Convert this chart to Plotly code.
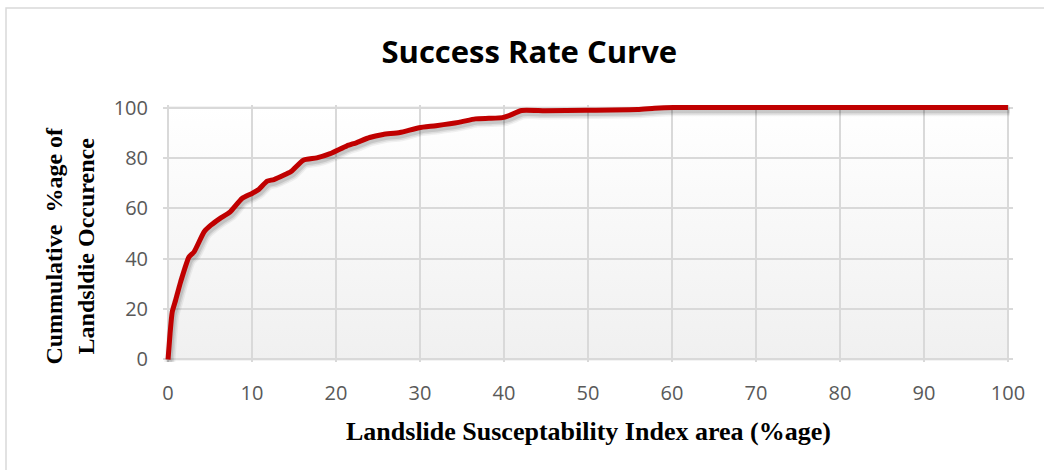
import base64
import plotly.graph_objects as go

# Success rate curve: cumulative landslide occurrence vs. susceptability index area
area_pct = [0, 0.24, 0.5, 0.9, 1.5, 2.5, 3.1, 4.3, 5.1, 6.2, 7.4, 8.8, 10.0, 10.8,
            11.8, 12.6, 14.0, 14.7, 16.1, 17.7, 19.3, 21.3, 22.4, 24.0, 25.6, 27.6,
            29.9, 31.9, 34.6, 36.6, 38.2, 39.8, 40.6, 42.1, 44.9, 49.8, 55.9, 57.9,
            60.2, 100]
occurrence_pct = [0, 10.3, 18.9, 23.5, 30.8, 40.7, 42.7, 50.7, 53.3, 56.0, 58.6, 63.9,
                  65.9, 67.5, 70.8, 71.4, 73.5, 74.7, 79.1, 80.0, 81.7, 84.8, 86.0,
                  88.1, 89.3, 90.1, 92.0, 92.8, 94.1, 95.5, 95.7, 96.0, 96.8, 98.8,
                  98.7, 98.9, 99.2, 99.7, 100, 100]
tick_vals = [0, 10, 20, 30, 40, 50, 60, 70, 80, 90, 100]
y_tick_vals = [0, 20, 40, 60, 80, 100]

TITLE = "Success Rate Curve"
X_TITLE = "Landslide Susceptability Index area (%age)"
Y_TITLE = "Cummulative\u00a0 %age of<br>Landsldie Occurence"

X_RANGE = [-0.6, 100.6]
Y_RANGE = [-1, 101]
# shadow axes: same data drawn a couple of pixels right and down
SHADOW_X = [X_RANGE[0] - 0.2, X_RANGE[1] - 0.2]
SHADOW_Y = [Y_RANGE[0] + 1.3, Y_RANGE[1] + 1.3]

tick_font = dict(family="Open Sans, sans-serif", size=20, color="#595959")
serif = "Liberation Serif, Times New Roman, serif"

# vertical white-to-grey gradient for the plot area
grad_svg = (
    '<svg xmlns="http://www.w3.org/2000/svg" width="10" height="100" '
    'preserveAspectRatio="none">'
    '<defs><linearGradient id="g" x1="0" y1="0" x2="0" y2="1">'
    '<stop offset="0" stop-color="#ffffff"/>'
    '<stop offset="1" stop-color="#f0f0f0"/>'
    '</linearGradient></defs>'
    '<rect width="10" height="100" fill="url(#g)"/></svg>'
)
grad_uri = "data:image/svg+xml;base64," + base64.b64encode(grad_svg.encode()).decode()

fig = go.Figure()

# soft drop shadow under the curve
for width, alpha in [(11, 0.05), (8, 0.08), (5, 0.10)]:
    fig.add_trace(go.Scatter(
        x=area_pct, y=occurrence_pct, mode="lines", xaxis="x2", yaxis="y2",
        line=dict(color=f"rgba(0,0,0,{alpha})", width=width, shape="spline",
                  smoothing=0.5),
        hoverinfo="skip", showlegend=False,
    ))

# the curve itself, on an overlay that sits above the shadow
fig.add_trace(go.Scatter(
    x=area_pct, y=occurrence_pct, mode="lines", xaxis="x3", yaxis="y3",
    line=dict(color="#C00000", width=5, shape="spline", smoothing=0.5),
    showlegend=False,
))

fig.update_layout(
    width=1044, height=470,
    margin=dict(l=163, r=31, t=105, b=108),
    paper_bgcolor="#ffffff",
    plot_bgcolor="rgba(0,0,0,0)",
    title=dict(text=TITLE, xref="container", yref="container", x=0.507, y=0.889,
               xanchor="center", yanchor="middle",
               font=dict(family="Open Sans, sans-serif", size=31, color="#000000",
                         weight="bold")),
    xaxis=dict(range=X_RANGE, tickvals=tick_vals, showgrid=True, gridcolor="#d9d9d9",
               gridwidth=1.5, zeroline=False, showline=False, ticks="",
               tickfont=tick_font, ticklabelstandoff=17, fixedrange=True),
    yaxis=dict(range=Y_RANGE, tickvals=y_tick_vals, showgrid=True, gridcolor="#d9d9d9",
               gridwidth=1.5, zeroline=False, showline=False, ticks="",
               tickfont=tick_font, ticklabelstandoff=14, fixedrange=True),
    xaxis2=dict(range=SHADOW_X, overlaying="x", visible=False, fixedrange=True),
    yaxis2=dict(range=SHADOW_Y, overlaying="y", visible=False, fixedrange=True),
    xaxis3=dict(range=X_RANGE, overlaying="x", visible=False, fixedrange=True),
    yaxis3=dict(range=Y_RANGE, overlaying="y", visible=False, fixedrange=True),
    images=[dict(source=grad_uri, xref="x", yref="y", x=0, y=100, sizex=100, sizey=100,
                 sizing="stretch", xanchor="left", yanchor="top", layer="below")],
    shapes=[
        # plot-area frame
        dict(type="rect", xref="x", yref="y", x0=0, x1=100, y0=0, y1=100,
             line=dict(color="#cfcfcf", width=1.5), layer="below"),
        # outer chart frame
        dict(type="rect", xref="paper", yref="paper", x0=-0.1847, x1=1.2,
             y0=-0.6, y1=1.377, line=dict(color="#d9d9d9", width=1.5)),
    ],
    annotations=[
        dict(text=X_TITLE, xref="paper", yref="paper", x=0.5, y=-0.272,
             xanchor="center", yanchor="middle", showarrow=False,
             font=dict(family=serif, size=26, color="#000000", weight="bold")),
        dict(text=Y_TITLE, xref="paper", yref="paper", x=-0.11, y=0.451,
             xanchor="center", yanchor="middle", showarrow=False, textangle=-90,
             font=dict(family=serif, size=24, color="#000000", weight="bold")),
    ],
)

fig.write_html("out.html")
